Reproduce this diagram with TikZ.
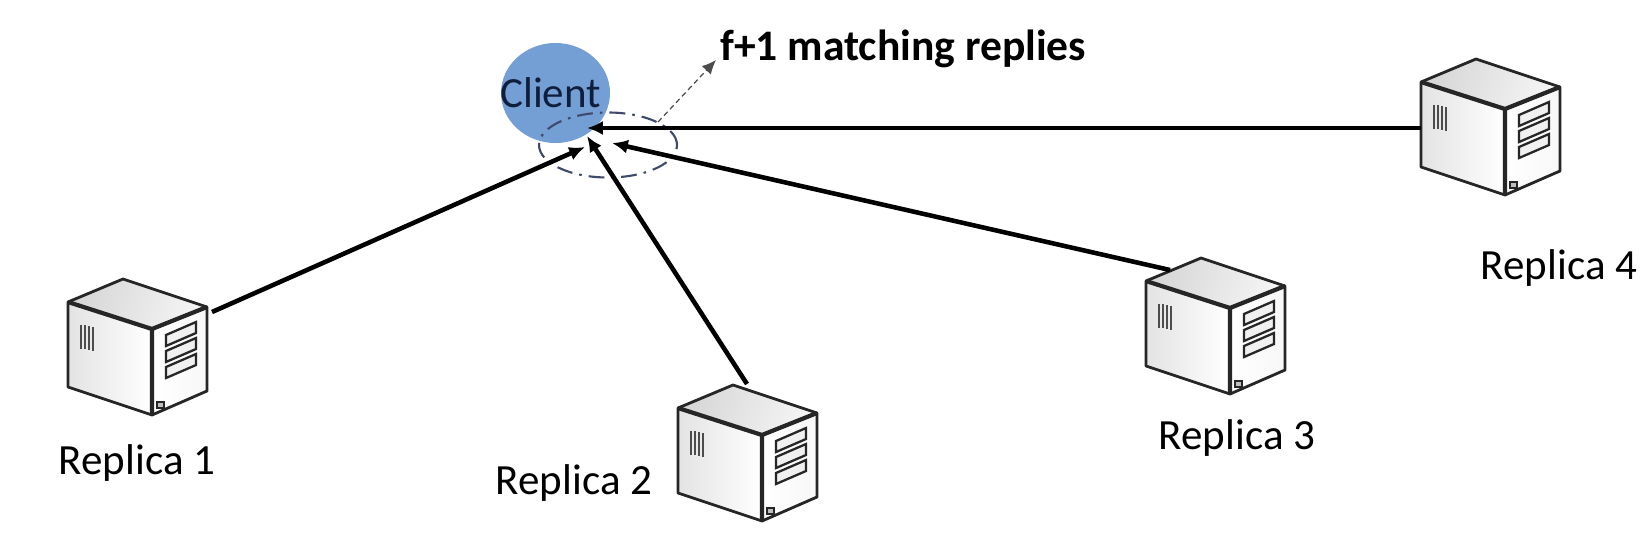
\documentclass[tikz,border=0pt]{standalone}
\usepackage{fontspec}
\setmainfont{Carlito}
\usetikzlibrary{arrows.meta,shapes.geometric}
\definecolor{clientblue}{HTML}{739FD4}
\definecolor{clientink}{HTML}{0F1E3C}
\definecolor{ringblue}{HTML}{3F4A6B}
\tikzset{
  pics/server/.style={code={
    \fill[top color=gray!32,bottom color=gray!8,shading angle=70] (0,0)--(55,-23)--(139,5)--(84,27)--cycle;
    \fill[left color=gray!22,right color=white] (0,0)--(84,27)--(84,113)--(0,85)--cycle;
    \fill[left color=white,right color=gray!6] (84,27)--(139,5)--(139,89)--(84,113)--cycle;
    \draw[serveredge,line join=round] (0,0)--(55,-23)--(139,5)--(139,89)--(84,113)--(0,85)--cycle;
    \draw[serveredge,line width=2.4pt] (0,0)--(84,27)--(139,5) (84,27)--(84,113);
    \foreach \y in {0,16,32}
      \draw[serveredge,line width=1.3pt,fill=gray!12] (98,33+\y)--(128,20+\y)--(128,31+\y)--(98,44+\y)--cycle;
    \foreach \x in {13,17,21,25}
      \draw[gray!60!black,line width=0.7pt] (\x,20+\x/5)--(\x,44+\x/5);
    \draw[serveredge,line width=1.2pt,fill=gray!50] (89,100) rectangle (96,106);
    \coordinate (-east) at (144,10);
    \coordinate (-apex) at (69,-24);
    \coordinate (-back) at (24,-11);
    \coordinate (-side) at (0,46);
  }}
}
\begin{document}
\begin{tikzpicture}[x=0.02cm,y=-0.02cm,every node/.style={font=\fontsize{24.5}{28}\selectfont,inner sep=0pt}]
    \tikzset{
      serveredge/.style={line width=1.6pt,black!85},
      reply/.style={-{Latex[length=9pt,width=8pt]},line width=2.6pt,black},
    }
    \useasboundingbox (0,0) rectangle (1648,538);

    \node[ellipse,fill=clientblue,text=clientink,minimum width=109*0.02cm,minimum height=100*0.02cm] (client) at (555.5,93) {\makebox[0pt]{Client\kern5.6pt}};
    \node[ellipse,draw=ringblue,line width=1.2pt,dash pattern=on 9pt off 4pt on 1.5pt off 4pt,minimum width=138*0.02cm,minimum height=65*0.02cm] (ring) at (608,145) {};

    \pic (rone) at (68,302) {server};
    \pic (rtwo) at (678,408) {server};
    \pic (rthree) at (1146,281) {server};
    \pic (rfour) at (1421,82) {server};

    \node (labone) at (137,463) {Replica 1};
    \node (labtwo) at (574,483) {Replica 2};
    \node (labthree) at (1237,438) {Replica 3};
    \node (labfour) at (1559,268) {Replica 4};
    \node[anchor=west,font=\fontsize{24.8}{28}\selectfont\bfseries] (note) at (720,49) {f+1 matching replies};

    \coordinate (hitone) at (585,147);
    \coordinate (hittwo) at (587,136);
    \coordinate (hitthree) at (612,143);
    \coordinate (hitfour) at (587,128);
    \coordinate (ringtop) at (658,122);
    \coordinate (notefoot) at (716,60);

    \draw[reply] (rone-east)--(hitone);
    \draw[reply] (rtwo-apex)--(hittwo);
    \draw[reply] (rthree-back)--(hitthree);
    \draw[reply] (rfour-side)--(hitfour);
    \draw[-{Latex[length=8pt,width=7pt]},densely dashed,line width=0.7pt,black!70] (ringtop)--(notefoot);
\end{tikzpicture}
\end{document}
